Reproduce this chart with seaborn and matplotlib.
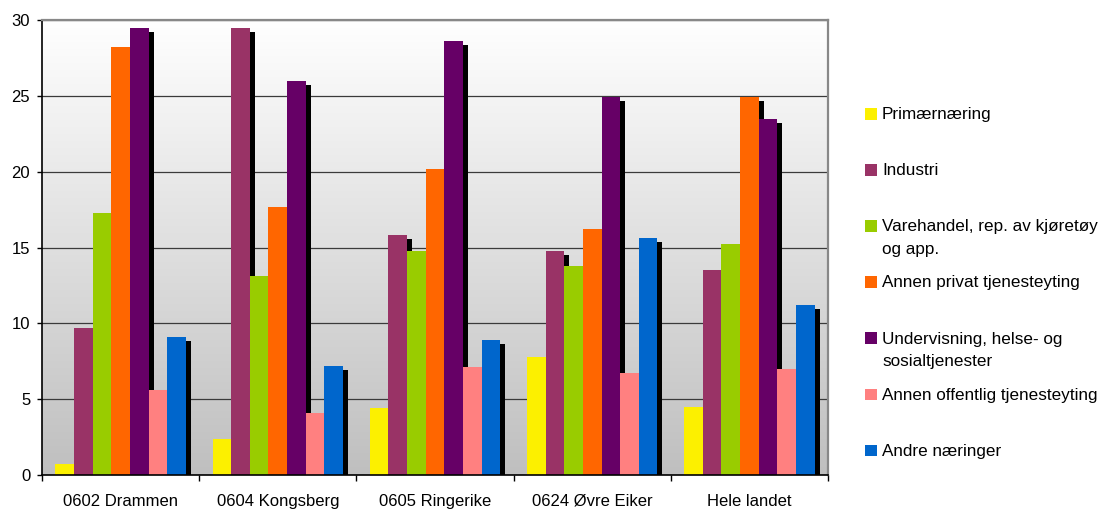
import numpy as np
import pandas as pd
import matplotlib
matplotlib.use("Agg")
import matplotlib.pyplot as plt
import seaborn as sns
from matplotlib.transforms import ScaledTranslation
from matplotlib.patches import Rectangle
from matplotlib.colors import LinearSegmentedColormap

regions = ["0602 Drammen", "0604 Kongsberg", "0605 Ringerike", "0624 Øvre Eiker", "Hele landet"]
series = ["Primærnæring", "Industri", "Varehandel, rep. av kjøretøy\nog app.",
          "Annen privat tjenesteyting", "Undervisning, helse- og\nsosialtjenester",
          "Annen offentlig tjenesteyting", "Andre næringer"]
primaer = [0.7, 2.4, 4.4, 7.8, 4.5]
industri = [9.7, 29.5, 15.8, 14.8, 13.5]
varehandel = [17.3, 13.1, 14.8, 13.8, 15.2]
privat = [28.2, 17.7, 20.2, 16.2, 24.9]
undervisning = [29.5, 26.0, 28.6, 24.9, 23.5]
offentlig = [5.6, 4.1, 7.1, 6.7, 7.0]
andre = [9.1, 7.2, 8.9, 15.6, 11.2]
yticks = [0, 5, 10, 15, 20, 25, 30]
colors = ["#fcf000", "#993366", "#99cc00", "#ff6600", "#660066", "#ff8080", "#0066cc"]

values = [primaer, industri, varehandel, privat, undervisning, offentlig, andre]
rows = []
for s, vals in zip(series, values):
    for r, v in zip(regions, vals):
        rows.append({"region": r, "series": s, "value": v})
df = pd.DataFrame(rows)

plt.rcParams["font.family"] = ["Liberation Sans", "DejaVu Sans"]
W, H, DPI = 1103, 509, 100
fig = plt.figure(figsize=(W / DPI, H / DPI), dpi=DPI)
ax = fig.add_axes([42 / W, 1 - 475 / H, (828 - 42) / W, (475 - 20) / H])

common = dict(data=df, x="region", y="value", hue="series", order=regions,
              hue_order=series, width=0.83, gap=0, errorbar=None, saturation=1,
              legend=False, linewidth=0, ax=ax)

# shadows
sns.barplot(palette=["black"] * len(series), **common)
off = ScaledTranslation(5 / DPI, -4 / DPI, fig.dpi_scale_trans)
for p in ax.patches:
    p.set_transform(ax.transData + off)
    p.set_zorder(2)
n = len(ax.patches)
sns.barplot(palette=colors, **common)
for p in ax.patches[n:]:
    p.set_zorder(3)

ax.set_xlim(-0.5, 4.5)
ax.set_ylim(0, 30)

cmap = LinearSegmentedColormap.from_list("g", ["#ffffff", "#bfbfbf"])
ax.imshow(np.linspace(0, 1, 256).reshape(-1, 1), cmap=cmap, extent=[0, 1, 0, 1],
          transform=ax.transAxes, aspect="auto", zorder=0)
ax.set_xlim(-0.5, 4.5)
ax.set_ylim(0, 30)

ax.set_axisbelow(True)
ax.yaxis.grid(True, color="#3a3a3a", lw=0.9, zorder=1)
ax.xaxis.grid(False)
ax.set_yticks(yticks)
ax.set_yticklabels([str(t) for t in yticks], fontsize=12)
ax.set_xticks(range(len(regions)))
ax.set_xticklabels(regions, fontsize=12)
ax.set_xticks(np.arange(-0.5, len(regions), 1), minor=True)
ax.tick_params(axis="x", which="major", length=0, pad=13.5)
ax.tick_params(axis="x", which="minor", length=4, width=1, color="black", direction="out")
ax.tick_params(axis="y", length=3.5, width=1, pad=5, color="black")
ax.set_xlabel("")
ax.set_ylabel("")
for side in ["left", "bottom"]:
    ax.spines[side].set_color("black")
    ax.spines[side].set_linewidth(1.2)
    ax.spines[side].set_zorder(5)
for side in ["top", "right"]:
    ax.spines[side].set_color("#888888")
    ax.spines[side].set_linewidth(1.6)
    ax.spines[side].set_zorder(5)

# legend (marker aligned with first text line, as in the reference)
base0, step = 119.5, 56.1
for i, (s, c) in enumerate(zip(series, colors)):
    yb = base0 + i * step
    fig.patches.append(Rectangle((865 / W, 1 - yb / H), 12 / W, 11.5 / H,
                                 transform=fig.transFigure, facecolor=c,
                                 edgecolor="none", figure=fig))
    fig.text(882 / W, 1 - (yb - 12.3) / H, s, fontsize=12.3, va="top", ha="left",
             linespacing=1.6, color="black")

fig.savefig("out.png", dpi=DPI)
